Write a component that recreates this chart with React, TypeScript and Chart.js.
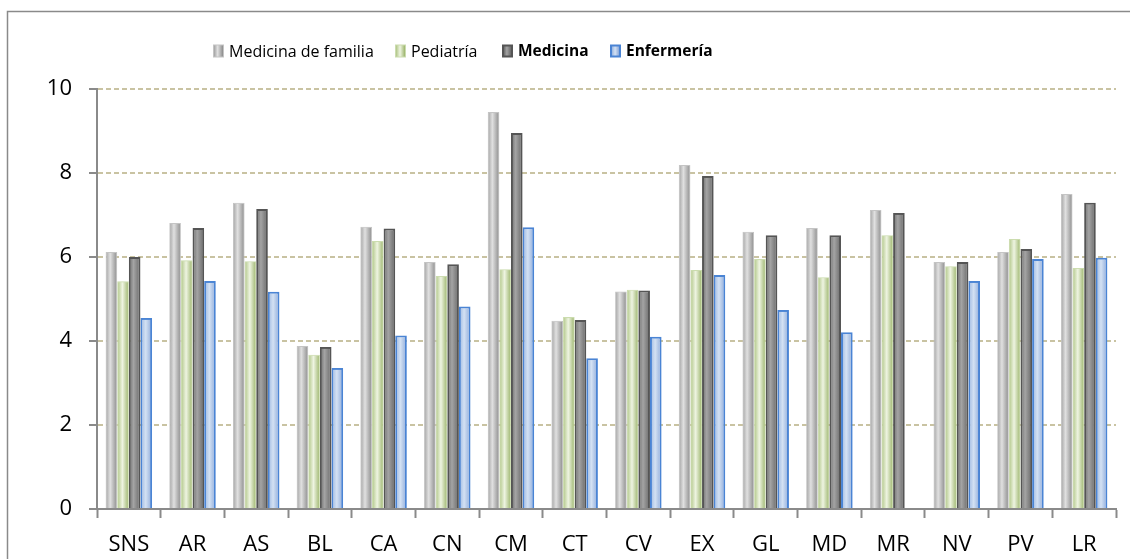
import React, { useEffect, useRef } from 'react';
import { Chart, registerables } from 'chart.js';

Chart.register(...registerables);

const categories = ['SNS', 'AR', 'AS', 'BL', 'CA', 'CN', 'CM', 'CT', 'CV', 'EX', 'GL', 'MD', 'MR', 'NV', 'PV', 'LR'];
const medicinaFamilia = [6.12, 6.81, 7.29, 3.88, 6.72, 5.88, 9.45, 4.48, 5.18, 8.19, 6.6, 6.69, 7.12, 5.88, 6.12, 7.5];
const pediatria = [5.42, 5.92, 5.9, 3.67, 6.38, 5.55, 5.71, 4.57, 5.22, 5.69, 5.95, 5.52, 6.52, 5.78, 6.43, 5.74];
const medicina = [6.0, 6.69, 7.14, 3.86, 6.68, 5.83, 8.95, 4.5, 5.2, 7.93, 6.52, 6.52, 7.05, 5.88, 6.19, 7.29];
const enfermeria: (number | null)[] = [4.55, 5.43, 5.17, 3.36, 4.13, 4.82, 6.71, 3.59, 4.1, 5.57, 4.74, 4.21, null, 5.43, 5.95, 5.98];
const seriesNames = ['Medicina de familia', 'Pediatría', 'Medicina', 'Enfermería'];
const yMin = 0;
const yMax = 10;
const yStep = 2;

type SeriesStyle = {
  stops: [number, string][];
  solid: string;
  border: string;
  borderWidth: number;
  bold: boolean;
  legendX: number;
};

const styles: SeriesStyle[] = [
  { stops: [[0, '#a2a2a2'], [0.4, '#e0e0e0'], [1, '#8c8c8c']], solid: '#c0c0c0', border: '#c4c4c4', borderWidth: 1, bold: false, legendX: 213 },
  { stops: [[0, '#afc585'], [0.45, '#eef4e1'], [1, '#9bb46b']], solid: '#c6d8a6', border: '#cbdcae', borderWidth: 1, bold: false, legendX: 395 },
  { stops: [[0, '#6c6c6c'], [0.4, '#a4a4a4'], [1, '#686868']], solid: '#8c8c8c', border: '#555555', borderWidth: 2, bold: true, legendX: 502 },
  { stops: [[0, '#9ab6e0'], [0.45, '#d3e1f3'], [1, '#8ca9d9']], solid: '#b4c9ea', border: '#4a84d4', borderWidth: 2, bold: true, legendX: 610 },
];

const FONT = '"Open Sans", "Noto Sans", sans-serif';

function makeGrad(ctx: CanvasRenderingContext2D, left: number, right: number, stops: [number, string][]) {
  const g = ctx.createLinearGradient(left, 0, right, 0);
  stops.forEach(([o, c]) => g.addColorStop(o, c));
  return g;
}

const framePlugin = {
  id: 'frame',
  beforeDraw(chart: any) {
    const ctx = chart.ctx as CanvasRenderingContext2D;
    ctx.save();
    ctx.fillStyle = '#ffffff';
    ctx.fillRect(0, 0, chart.width, chart.height);
    ctx.strokeStyle = '#8a8a8a';
    ctx.lineWidth = 1.5;
    ctx.beginPath();
    ctx.moveTo(7.5, chart.height);
    ctx.lineTo(7.5, 11.5);
    ctx.lineTo(chart.width, 11.5);
    ctx.stroke();
    ctx.restore();
  },
};

const gradientBars = {
  id: 'gradientBars',
  afterDatasetsDraw(chart: any) {
    const ctx = chart.ctx as CanvasRenderingContext2D;
    ctx.save();
    chart.data.datasets.forEach((_ds: any, di: number) => {
      const meta = chart.getDatasetMeta(di);
      const st = styles[di];
      meta.data.forEach((el: any) => {
        const p = el.getProps(['x', 'y', 'base', 'width'], true);
        if (!isFinite(p.y) || !isFinite(p.base) || Math.abs(p.y - p.base) < 0.5) return;
        const half = p.width / 2;
        const left = p.x - half;
        const right = p.x + half;
        const top = Math.min(p.y, p.base);
        const bottom = Math.max(p.y, p.base);
        const bw = st.borderWidth;
        ctx.fillStyle = makeGrad(ctx, left, right, st.stops);
        ctx.fillRect(left + bw, top + bw, right - left - 2 * bw, bottom - top - bw);
      });
    });
    ctx.restore();
  },
};

const legendPlugin = {
  id: 'customLegend',
  afterDraw(chart: any) {
    const ctx = chart.ctx as CanvasRenderingContext2D;
    ctx.save();
    const cy = 51;
    const sw = 11;
    const sh = 13;
    seriesNames.forEach((name, i) => {
      const st = styles[i];
      const x = st.legendX;
      const bw = st.borderWidth;
      ctx.fillStyle = st.border;
      ctx.fillRect(x, cy - sh / 2, sw, sh);
      ctx.fillStyle = makeGrad(ctx, x + bw, x + sw - bw, st.stops);
      ctx.fillRect(x + bw, cy - sh / 2 + bw, sw - 2 * bw, sh - 2 * bw);
      ctx.font = `${st.bold ? 'bold ' : ''}${st.bold ? 15.5 : 16}px ${FONT}`;
      ctx.fillStyle = '#000000';
      ctx.textBaseline = 'middle';
      ctx.textAlign = 'left';
      ctx.fillText(name, x + sw + 5, cy + 1);
    });
    ctx.restore();
  },
};

export default function App() {
  const canvasRef = useRef<HTMLCanvasElement | null>(null);

  useEffect(() => {
    if (!canvasRef.current) return;
    const values = [medicinaFamilia, pediatria, medicina, enfermeria];
    const chart = new Chart(canvasRef.current, {
      type: 'bar',
      data: {
        labels: categories,
        datasets: seriesNames.map((name, i) => ({
          label: name,
          data: values[i] as any,
          backgroundColor: styles[i].solid,
          borderColor: styles[i].border,
          borderWidth: styles[i].borderWidth,
          borderSkipped: 'start' as const,
          categoryPercentage: 0.73,
          barPercentage: 1.0,
        })),
      },
      options: {
        responsive: false,
        animation: false,
        devicePixelRatio: 1,
        layout: { padding: { left: 0, right: 14, top: 89, bottom: 0 } },
        plugins: {
          legend: { display: false },
          tooltip: { enabled: false },
          title: { display: false },
        },
        scales: {
          x: {
            type: 'category',
            offset: true,
            grid: {
              display: true,
              offset: true,
              drawOnChartArea: false,
              drawTicks: true,
              tickLength: 9,
              tickColor: '#8a8a8a',
              tickWidth: 2,
            },
            border: { display: true, color: '#8a8a8a', width: 2 },
            ticks: {
              color: '#000000',
              font: { family: FONT, size: 22 },
              padding: 14,
              maxRotation: 0,
              autoSkip: false,
            },
            afterFit: (s: any) => {
              s.height = 50;
            },
          },
          y: {
            min: yMin,
            max: yMax,
            ticks: {
              stepSize: yStep,
              color: '#000000',
              font: { family: FONT, size: 22 },
              padding: 17,
            },
            grid: {
              color: (c: any) => (c.tick && c.tick.value === 0 ? 'rgba(0,0,0,0)' : '#c9c3a2'),
              lineWidth: 2,
              tickColor: '#8a8a8a',
              tickLength: 8,
              tickWidth: 2,
            },
            border: { display: true, color: '#8a8a8a', width: 2, dash: [5, 3] },
            afterFit: (s: any) => {
              s.width = 97;
            },
          },
        },
      },
      plugins: [framePlugin, gradientBars, legendPlugin],
    });
    return () => chart.destroy();
  }, []);

  return (
    <div style={{ position: 'fixed', left: 0, top: 0, width: 1130, height: 559, background: '#fff' }}>
      <canvas ref={canvasRef} width={1130} height={559} style={{ display: 'block', width: 1130, height: 559 }} />
    </div>
  );
}
